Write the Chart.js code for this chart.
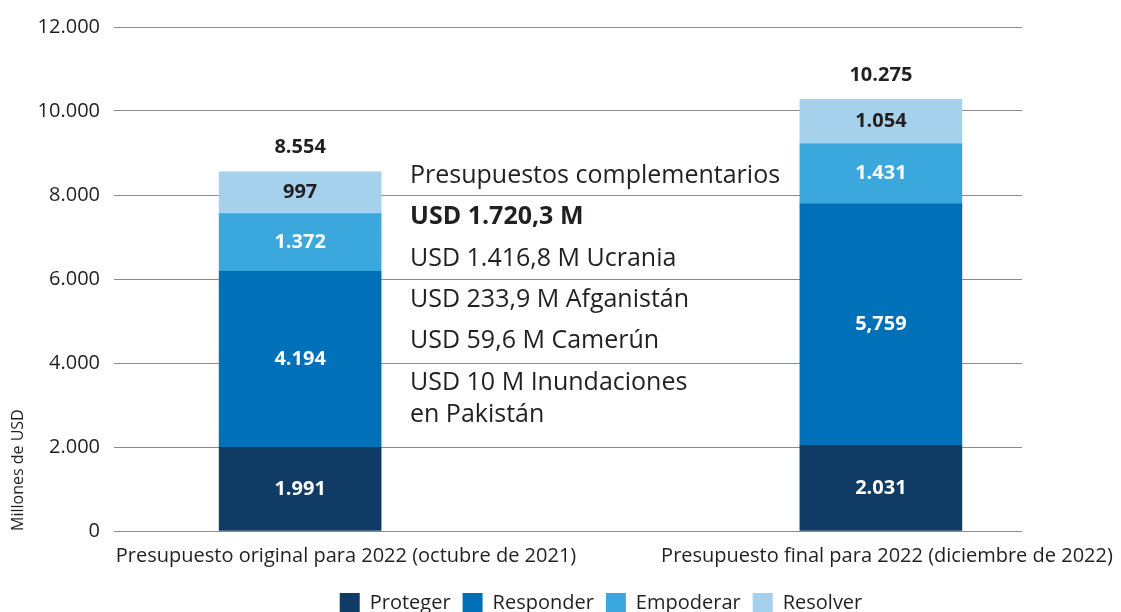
<!DOCTYPE html>
<html>
<head>
<meta charset="utf-8">
<script src="https://cdn.jsdelivr.net/npm/chart.js@4"></script>
<style>
  html, body { margin: 0; padding: 0; background: #fff; }
  #wrap { width: 1121px; height: 612px; }
</style>
</head>
<body>
<div id="wrap"><canvas id="myChart"></canvas></div>
<script>
var categories = ["Presupuesto original para 2022 (octubre de 2021)", "Presupuesto final para 2022 (diciembre de 2022)"];
var seriesNames = ["Proteger", "Responder", "Empoderar", "Resolver"];
var protegerValues = [1991, 2031];
var responderValues = [4194, 5759];
var empoderarValues = [1372, 1431];
var resolverValues = [997, 1054];
var responderText = ["4.194", "5,759"];
var yTicks = [0, 2000, 4000, 6000, 8000, 10000, 12000];
var noteLines = [
  "Presupuestos complementarios",
  "USD 1.720,3 M",
  "USD 1.416,8 M Ucrania",
  "USD 233,9 M Afganistán",
  "USD 59,6 M Camerún",
  "USD 10 M Inundaciones",
  "en Pakistán"
];

var barColors = ["#0f3b64", "#0070b9", "#3aa8dc", "#a6d1ec"];
var FONT = "'Open Sans', sans-serif";

function fmt(v) {
  return v.toString().replace(/\B(?=(\d{3})+(?!\d))/g, ".");
}

function toPoints(values) {
  return values.map(function (v, i) { return { x: i, y: v }; });
}

var allValues = [protegerValues, responderValues, empoderarValues, resolverValues];

var valueLabels = {
  id: "valueLabels",
  afterDatasetsDraw: function (chart) {
    var ctx = chart.ctx;
    ctx.save();
    ctx.textAlign = "center";
    ctx.textBaseline = "middle";
    ctx.font = "bold 20px " + FONT;
    chart.data.datasets.forEach(function (ds, d) {
      chart.getDatasetMeta(d).data.forEach(function (bar, i) {
        var txt = d === 1 ? responderText[i] : fmt(allValues[d][i]);
        ctx.fillStyle = d === 3 ? "#231f20" : "#ffffff";
        ctx.fillText(txt, bar.x, (bar.y + bar.base) / 2);
      });
    });
    // totals above the bars
    var top = chart.getDatasetMeta(3).data;
    top.forEach(function (bar, i) {
      var total = 0;
      allValues.forEach(function (arr) { total += arr[i]; });
      ctx.fillStyle = "#231f20";
      ctx.fillText(fmt(total), bar.x, bar.y - 24);
    });
    ctx.restore();
  }
};

var notes = {
  id: "notes",
  afterDraw: function (chart) {
    var ctx = chart.ctx;
    var a = chart.chartArea;
    var x = a.left + 296;
    var ys = [176, 217, 259, 300, 341, 383, 415];
    ctx.save();
    ctx.textAlign = "left";
    ctx.textBaseline = "middle";
    ctx.fillStyle = "#231f20";
    noteLines.forEach(function (t, i) {
      ctx.font = (i === 1 ? "bold " : "") + "25px " + FONT;
      ctx.fillText(t, x, ys[i]);
    });
    ctx.restore();
  }
};

// legend sits a bit right of the canvas centre in the original
var legendShift = {
  id: "legendShift",
  afterLayout: function (chart) {
    chart.legend.left += 90;
    chart.legend.right += 90;
  }
};

new Chart("myChart", {
  type: "bar",
  data: {
    datasets: seriesNames.map(function (name, d) {
      return {
        label: name,
        data: toPoints(allValues[d]),
        backgroundColor: barColors[d],
        barThickness: 162
      };
    })
  },
  options: {
    responsive: true,
    maintainAspectRatio: false,
    animation: false,
    layout: { padding: { top: 27, right: 99, left: 0, bottom: -11 } },
    plugins: {
      legend: {
        position: "bottom",
        labels: {
          boxWidth: 20,
          boxHeight: 20,
          padding: 12,
          color: "#231f20",
          font: { family: FONT, size: 20 }
        }
      },
      tooltip: { enabled: false }
    },
    scales: {
      x: {
        type: "linear",
        stacked: true,
        offset: false,
        min: -0.3205,
        max: 1.243,
        grid: { display: false, offset: false },
        border: { display: false },
        afterBuildTicks: function (scale) {
          scale.ticks = [{ value: 0.079 }, { value: 1.0105 }];
        },
        afterFit: function (scale) {
          scale.height = 50;
          scale.paddingLeft = 0;
          scale.paddingRight = 0;
        },
        ticks: {
          padding: 5,
          maxRotation: 0,
          autoSkip: false,
          color: "#231f20",
          font: { family: FONT, size: 20 },
          callback: function (v, i) { return categories[i]; }
        }
      },
      y: {
        stacked: true,
        min: 0,
        max: 12000,
        afterBuildTicks: function (scale) {
          scale.ticks = yTicks.map(function (v) { return { value: v }; });
        },
        afterFit: function (scale) { scale.width = 114; },
        grid: { color: "#8a8a8a", lineWidth: 1, drawTicks: false },
        border: { display: false },
        title: {
          display: true,
          text: "Millones de USD",
          align: "start",
          color: "#231f20",
          font: { family: FONT, size: 16 },
          padding: { top: 9, bottom: 0 }
        },
        ticks: {
          padding: 14,
          color: "#231f20",
          font: { family: FONT, size: 20 },
          callback: function (v) { return fmt(v); }
        }
      }
    }
  },
  plugins: [valueLabels, notes, legendShift]
});
</script>
</body>
</html>
